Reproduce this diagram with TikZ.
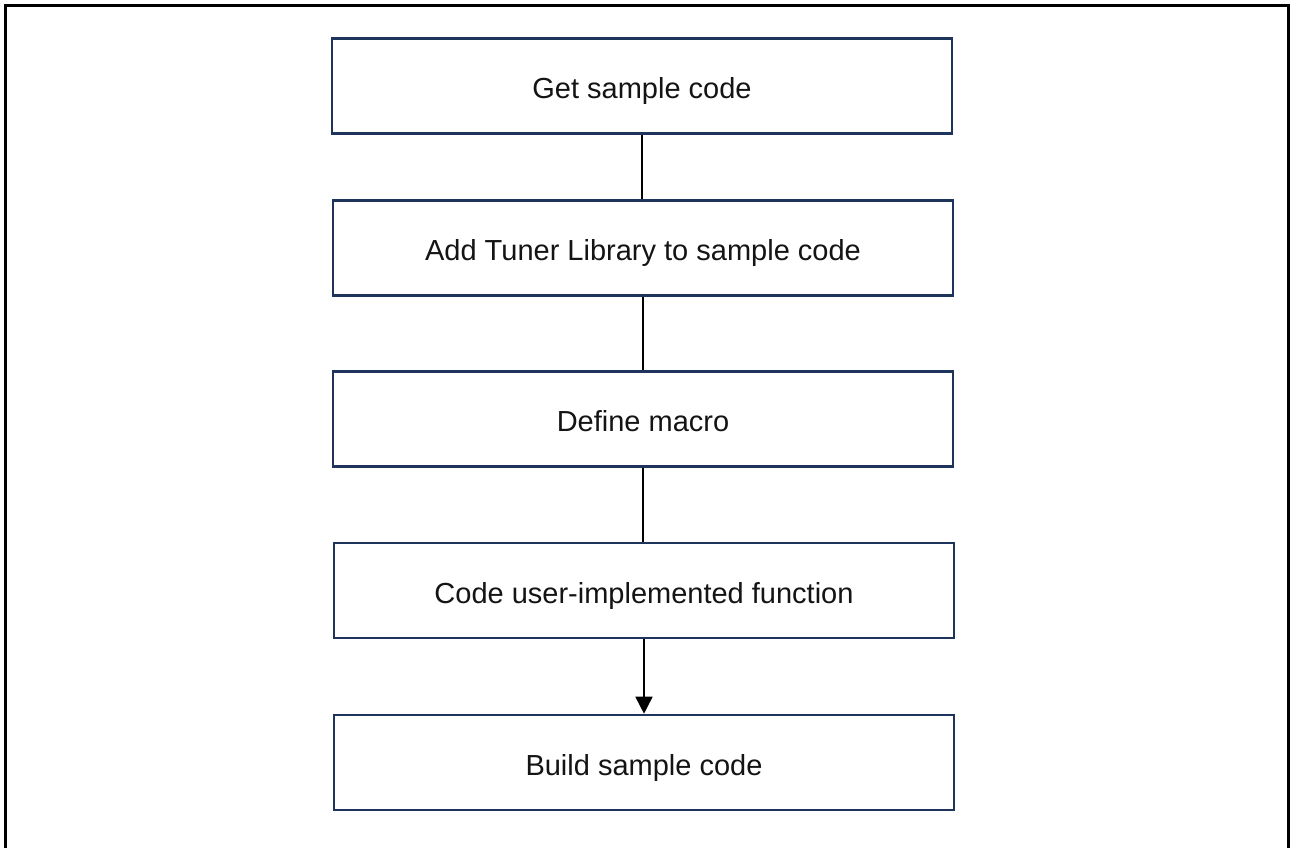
\documentclass[tikz,border=0pt]{standalone}
\usepackage{fontspec}
\setmainfont{Liberation Sans}
\usetikzlibrary{arrows.meta}
\definecolor{boxnavy}{RGB}{31,52,92}
\definecolor{darktext}{RGB}{20,20,20}
\tikzset{
  stepbox/.style={draw=boxnavy,line width=2.6pt,fill=white,
    minimum width=620pt,minimum height=95pt,inner sep=0pt,
    text height=25pt,text depth=0pt,
    font=\fontsize{29}{34}\selectfont,text=darktext},
  flowline/.style={draw=black,line width=1.6pt},
}
\begin{document}
\begin{tikzpicture}[x=1pt,y=-1pt]
\useasboundingbox (0,0) rectangle (1290,848);
\draw[line width=3pt] (5,870) |- (1288,6) -- (1288,870);
\node[stepbox](getcode) at(642,86){Get sample code};
\node[stepbox](addlib) at(643,248){Add Tuner Library to sample code};
\node[stepbox](defmacro) at(643,419){Define macro};
\node[stepbox](userfunc) at(644,590.5){Code user-implemented function};
\node[stepbox](build) at(644,762.5){Build sample code};
\draw[flowline](getcode.south)--(getcode.south|-addlib.north);
\draw[flowline](addlib.south)--(addlib.south|-defmacro.north);
\draw[flowline](defmacro.south)--(defmacro.south|-userfunc.north);
\draw[flowline,-{Triangle[width=17pt,length=17pt]}]
  (userfunc.south)--(build.north);
\end{tikzpicture}
\end{document}
